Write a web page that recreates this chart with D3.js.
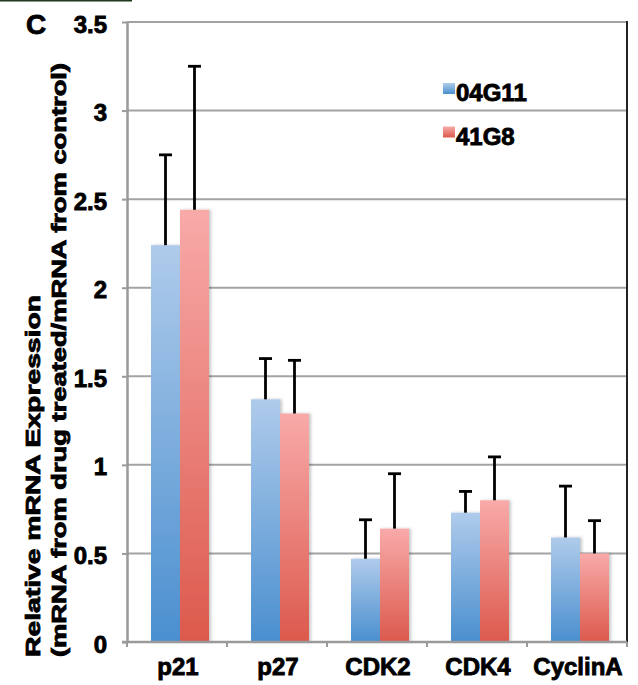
<!DOCTYPE html>
<html>
<head>
<meta charset="utf-8">
<script src="https://cdn.jsdelivr.net/npm/d3@7"></script>
<style>
  html, body { margin: 0; padding: 0; background: #fff; }
  svg { display: block; font-family: "Liberation Sans", Arial, Helvetica, sans-serif; }
  svg text { font-weight: 700; fill: #000; stroke: #000; stroke-width: 0.85px; }
</style>
</head>
<body>
<svg id="chart" width="638" height="685"></svg>
<script>
// ---- data ----
const categories = ["p21", "p27", "CDK2", "CDK4", "CyclinA"];
const series = ["04G11", "41G8"];
const values04G11 = [2.24, 1.37, 0.47, 0.73, 0.59];
const values41G8  = [2.44, 1.29, 0.64, 0.80, 0.50];
const errors04G11 = [0.51, 0.23, 0.22, 0.12, 0.29];
const errors41G8  = [0.81, 0.30, 0.31, 0.245, 0.185];
const yTickValues = [0, 0.5, 1, 1.5, 2, 2.5, 3, 3.5];
const yTickLabels = ["0", "0.5", "1", "1.5", "2", "2.5", "3", "3.5"];
const panelLabel = "C";
const yTitle1 = "Relative mRNA Expression";
const yTitle2 = "(mRNA from drug treated/mRNA from control)";

const svg = d3.select("#chart");
const plotLeft = 127, plotRight = 627, plotTop = 22, plotBottom = 642;

const y = d3.scaleLinear().domain([0, 3.5]).range([plotBottom, plotTop]);
const x0 = d3.scaleBand().domain(categories).range([plotLeft, plotRight]).padding(0);
const x1 = d3.scaleBand().domain(series).range([0, 58]).padding(0);
const groupOffset = 24;

// defs: gradients + shadow
const defs = svg.append("defs");
const grads = [
  { id: "g0", top: "#afcbeb", bot: "#4a8fcf" },
  { id: "g1", top: "#f8aaa9", bot: "#dc594c" }
];
grads.forEach(g => {
  const lg = defs.append("linearGradient").attr("id", g.id)
    .attr("x1", 0).attr("y1", 0).attr("x2", 0).attr("y2", 1);
  lg.append("stop").attr("offset", "0%").attr("stop-color", g.top);
  lg.append("stop").attr("offset", "100%").attr("stop-color", g.bot);
});
const f = defs.append("filter").attr("id", "shadow")
  .attr("x", "-20%").attr("y", "-5%").attr("width", "150%").attr("height", "110%");
f.append("feDropShadow").attr("dx", 2).attr("dy", 0).attr("stdDeviation", 1.5)
  .attr("flood-color", "#000").attr("flood-opacity", 0.22);

// top-left dark line artifact
svg.append("line").attr("x1", 0).attr("x2", 132).attr("y1", 0.5).attr("y2", 0.5)
  .attr("stroke", "#1d3a1e").attr("stroke-width", 2);

// gridlines
svg.append("g").selectAll("line")
  .data(yTickValues.filter(v => v > 0))
  .join("line")
  .attr("x1", plotLeft).attr("x2", plotRight)
  .attr("y1", d => y(d)).attr("y2", d => y(d))
  .attr("stroke", "#a3a3a3").attr("stroke-width", 2);

// right border
svg.append("line").attr("x1", plotRight).attr("x2", plotRight)
  .attr("y1", y(3.5) - 1).attr("y2", plotBottom)
  .attr("stroke", "#222").attr("stroke-width", 2);

// bars
const rows = categories.map((c, i) => ({
  cat: c,
  items: [
    { s: series[0], v: values04G11[i], e: errors04G11[i], g: "g0" },
    { s: series[1], v: values41G8[i], e: errors41G8[i], g: "g1" }
  ]
}));

const groups = svg.append("g").selectAll("g")
  .data(rows).join("g")
  .attr("transform", d => `translate(${x0(d.cat) + groupOffset},0)`);

groups.selectAll("rect")
  .data(d => d.items).join("rect")
  .attr("x", d => x1(d.s))
  .attr("y", d => y(d.v))
  .attr("width", x1.bandwidth())
  .attr("height", d => y(0) - y(d.v))
  .attr("fill", d => `url(#${d.g})`)
  .attr("filter", "url(#shadow)");

// error bars (upper only)
const eb = groups.selectAll("g.err").data(d => d.items).join("g").attr("class", "err");
eb.append("line")
  .attr("x1", d => x1(d.s) + x1.bandwidth() / 2)
  .attr("x2", d => x1(d.s) + x1.bandwidth() / 2)
  .attr("y1", d => y(d.v))
  .attr("y2", d => y(d.v + d.e))
  .attr("stroke", "#000").attr("stroke-width", 2.8);
eb.append("line")
  .attr("x1", d => x1(d.s) + x1.bandwidth() / 2 - 6.5)
  .attr("x2", d => x1(d.s) + x1.bandwidth() / 2 + 6.5)
  .attr("y1", d => y(d.v + d.e))
  .attr("y2", d => y(d.v + d.e))
  .attr("stroke", "#000").attr("stroke-width", 2.8);

// y axis
const yAxis = svg.append("g").attr("transform", `translate(${plotLeft},0)`)
  .call(d3.axisLeft(y).tickValues(yTickValues)
    .tickFormat((d, i) => yTickLabels[i]).tickSize(5).tickSizeOuter(0).tickPadding(15));
yAxis.attr("font-family", null).attr("font-size", null);
yAxis.select(".domain").attr("stroke", "#9a9a9a").attr("stroke-width", 2.5);
yAxis.selectAll(".tick line").attr("stroke", "#9a9a9a").attr("stroke-width", 2);
yAxis.selectAll(".tick text").attr("font-size", 24).attr("dy", "0.42em");

// x axis
const xAxis = svg.append("g").attr("transform", `translate(0,${plotBottom})`)
  .call(d3.axisBottom(x0).tickSize(0).tickPadding(0).tickSizeOuter(0));
xAxis.attr("font-family", null).attr("font-size", null);
xAxis.select(".domain").attr("stroke", "#9a9a9a").attr("stroke-width", 2.5)
  .attr("d", `M${plotLeft - 5},0H${plotRight}`);
xAxis.selectAll(".tick text").attr("font-size", 24).attr("dy", null)
  .attr("y", 33).attr("dx", 1);
svg.append("g").selectAll("line")
  .data(categories.map(c => x0(c)).concat([x0.range()[1]]))
  .join("line")
  .attr("x1", d => d).attr("x2", d => d)
  .attr("y1", plotBottom).attr("y2", plotBottom + 5)
  .attr("stroke", "#9a9a9a").attr("stroke-width", 2);

// legend
const legend = svg.append("g");
series.forEach((s, i) => {
  const gy = 83 + i * 43.5;
  legend.append("rect").attr("x", 443).attr("y", gy).attr("width", 12).attr("height", 11)
    .attr("fill", `url(#${grads[i].id})`);
  legend.append("text").attr("x", 456).attr("y", gy + 18).attr("font-size", 24)
    .text(s);
});

// panel label
svg.append("text").attr("x", 26).attr("y", 34).attr("font-size", 28)
  .text(panelLabel);

// y-axis titles
svg.append("text")
  .attr("transform", "translate(40,657) rotate(-90)")
  .attr("font-size", 21)
  .attr("textLength", 362).attr("lengthAdjust", "spacingAndGlyphs")
  .text(yTitle1);
svg.append("text")
  .attr("transform", "translate(66,657) rotate(-90)")
  .attr("font-size", 21)
  .attr("textLength", 594).attr("lengthAdjust", "spacingAndGlyphs")
  .text(yTitle2);
</script>
</body>
</html>
